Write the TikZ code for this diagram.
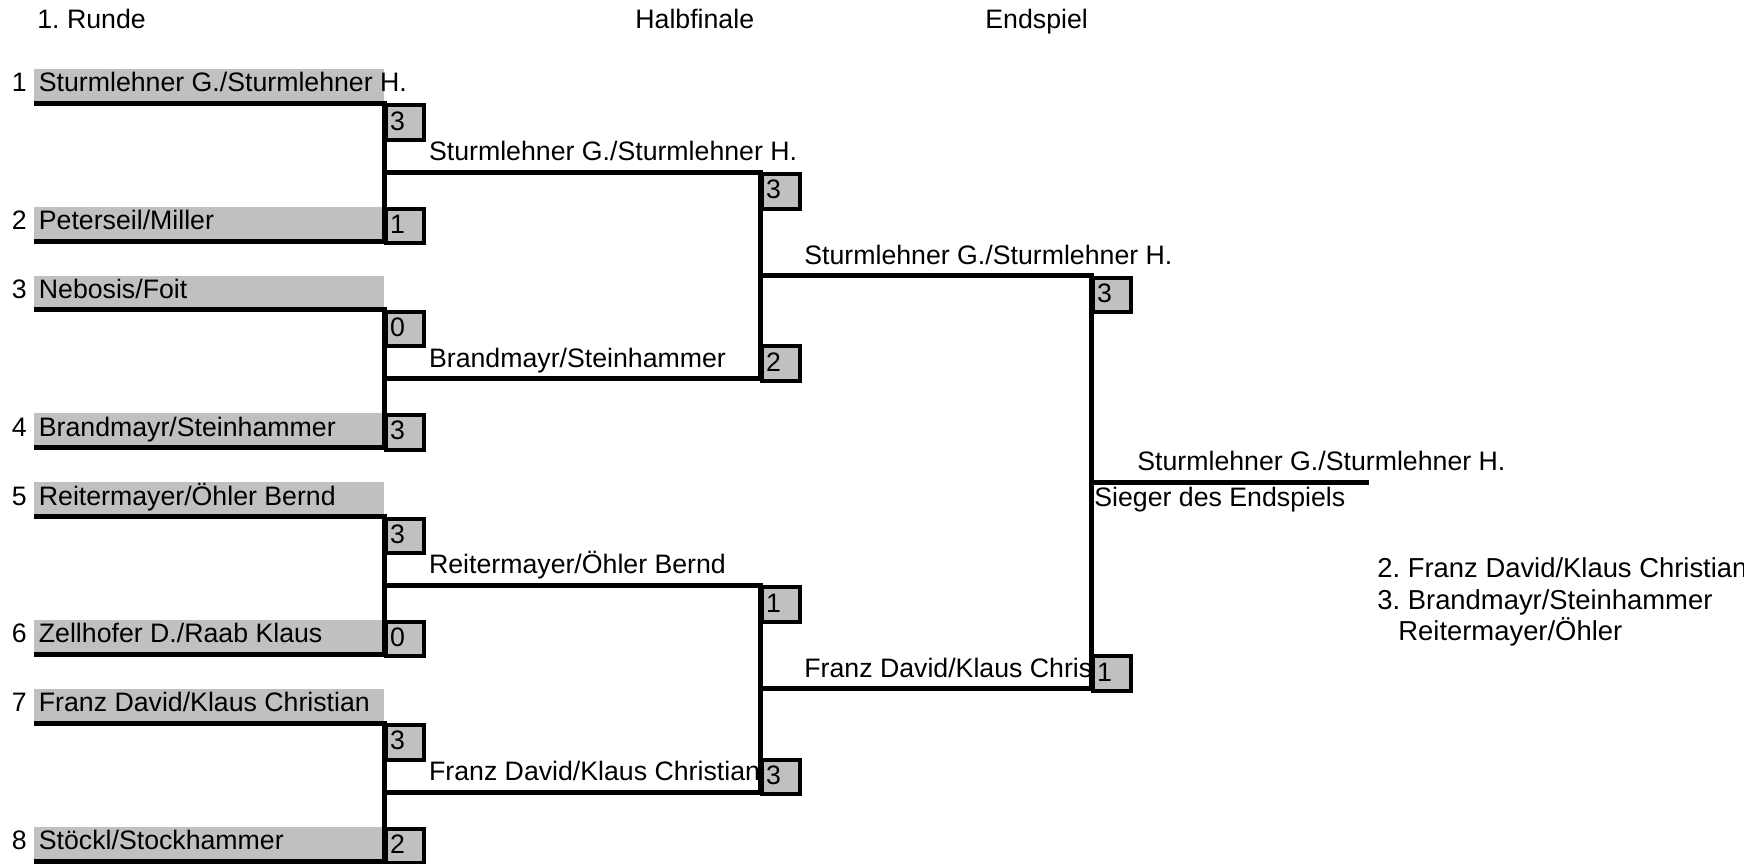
\documentclass[tikz,border=0pt]{standalone}
\usepackage{fontspec}
\setmainfont{Liberation Sans}
\usepackage{xcolor}
\definecolor{cellgray}{RGB}{192,192,192}
\usepackage{tikz}
\tikzset{
  bracket/.style={line width=2.5pt},
  cell/.style={fill=cellgray},
  label/.style={anchor=base west, inner sep=0pt},
  place/.style={anchor=base west, inner sep=0pt, font=\fontsize{13.7}{15}\selectfont},
  seed/.style={anchor=base east, inner sep=0pt},
  score/.style={draw, line width=2pt, fill=cellgray, anchor=north west,
    minimum height=17.22pt, inner xsep=2pt, inner ysep=0pt, text width=15pt,
    align=left, text height=9.5pt, text depth=2pt}
}
\frenchspacing

\begin{document}
\begin{tikzpicture}[x=0.5pt, y=-17.22pt, font=\fontsize{13.35}{15}\selectfont]
  \clip (0,0) rectangle (1744,25.087);
  % Headings
  \node[label] (runde) at (37,0.842) {1. Runde};
  \node[label] (halb) at (635,0.842) {Halbfinale};
  \node[label] (end) at (985,0.842) {Endspiel};
  % Players of the first round
  \foreach \i/\r/\t in {1/3/{Sturmlehner G./Sturmlehner H.}, 2/7/{Peterseil/Miller},
      3/9/{Nebosis/Foit}, 4/13/{Brandmayr/Steinhammer}, 5/15/{Reitermayer/Öhler Bernd},
      6/19/{Zellhofer D./Raab Klaus}, 7/21/{Franz David/Klaus Christian}, 8/25/{Stöckl/Stockhammer}} {
    \fill[cell] (34,{\r-1}) rectangle (384,\r);
    \node[seed] (n\i) at (27,{\r-0.334}) {\i};
    \node[label] (p\i) at (38.5,{\r-0.334}) {\t};
    \coordinate (l\i) at (34,\r);
  }
  % Winners
  \foreach \x/\r/\t [count=\k] in {428.7/5/{Sturmlehner G./Sturmlehner H.}, 428.7/11/{Brandmayr/Steinhammer},
      428.7/17/{Reitermayer/Öhler Bernd}, 428.7/23/{Franz David/Klaus Christian},
      804/8/{Sturmlehner G./Sturmlehner H.}, 804/20/{Franz David/Klaus Chris},
      1137/14/{Sturmlehner G./Sturmlehner H.}}
    \node[label] (w\k) at (\x,{\r-0.334}) {\t};
  \node[label] (sieger) at (1094,14.72) {Sieger des Endspiels};
  % Places
  \node[place] (zweiter) at (1377,16.754) {2. Franz David/Klaus Christian};
  \node[place] (dritter) at (1377,17.683) {3. Brandmayr/Steinhammer};
  \node[place] (dritter2) at (1398,18.583) {Reitermayer/Öhler};
  % Scores
  \foreach \x/\r/\v [count=\k] in {384/3/3, 384/6/1, 384/9/0, 384/12/3, 384/15/3, 384/18/0,
      384/21/3, 384/24/2, 760/5/3, 760/10/2, 760/17/1, 760/22/3, 1091/8/3, 1091/19/1}
    \node[score] (s\k) at (\x,\r) {\v};
  % Bracket
  \coordinate (m1) at (384,5);
  \coordinate (m2) at (384,11);
  \coordinate (m3) at (384,17);
  \coordinate (m4) at (384,23);
  \coordinate (h1) at (760,8);
  \coordinate (h2) at (760,20);
  \coordinate (f) at (1091,14);
  \coordinate (fend) at (1369,14);
  \foreach \a/\b/\m in {1/2/1, 3/4/2, 5/6/3, 7/8/4}
    \draw[bracket] (l\a) -| (m\m) |- (l\b);
  \draw[bracket] (m1) -| (h1) |- (m2);
  \draw[bracket] (m3) -| (h2) |- (m4);
  \draw[bracket] (h1) -| (f) |- (h2);
  \draw[bracket] (f) -- (fend);
\end{tikzpicture}
\end{document}
